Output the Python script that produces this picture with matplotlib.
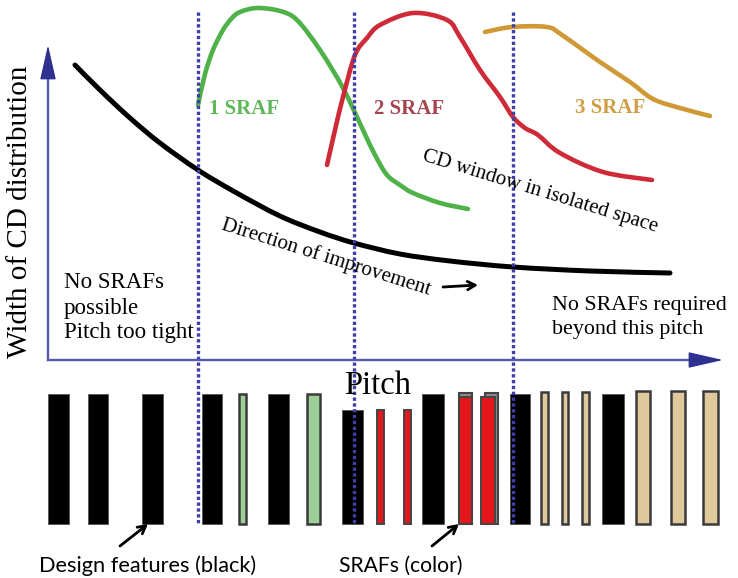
#Width of CD distribution vs pitch, with SRAF bars underneath

import matplotlib
matplotlib.use('Agg')
from matplotlib import pyplot as plt
from matplotlib.path import Path
from matplotlib.patches import PathPatch

# curves in pixels
black_x = [75, 100, 130, 160, 198, 235, 280, 320, 354, 400, 450, 513, 590, 670]
black_y = [65, 90, 118, 143, 170, 192, 216, 232, 243, 254, 261, 267, 271, 273]
green_x = [198, 205, 213, 223, 232, 240, 257, 280, 297, 320, 343, 363, 375, 387, 400, 413, 440, 468]
green_y = [105, 74, 50, 30, 18, 12, 8, 11, 20, 50, 88, 130, 155, 175, 185, 193, 203, 209]
red_x = [327, 335, 343, 355, 367, 380, 413, 447, 460, 480, 500, 513, 525, 538, 560, 603, 652]
red_y = [165, 130, 97, 55, 38, 25, 13, 20, 37, 70, 97, 117, 128, 135, 153, 172, 180]
tan_x = [485, 512, 547, 562, 600, 630, 653, 680, 710]
tan_y = [32, 27, 27, 35, 62, 82, 99, 108, 116]

# bars: left, right, top
black_bars = [(48, 69, 394), (88, 108, 394), (142, 163, 394), (202, 222, 394), (268, 289, 394),
              (342, 363, 410), (422, 444, 394), (510, 530, 394), (602, 624, 394)]
green_bars = [(239, 246, 394), (307, 320, 394)]
red_bars = [(377, 384, 410), (404, 411, 410), (459, 472, 397), (481, 495, 397)]
shadow_bars = [(459, 472, 393), (485, 498, 393)]
tan_bars = [(541, 548, 392), (562, 568, 392), (582, 589, 392), (636, 650, 391), (671, 685, 391), (703, 718, 391)]
bar_bottom = 524

divider_x = [198, 354, 513]

blue = '#5659ad'
blue_head = '#2e3192'
serif = 'Liberation Serif'

fig = plt.figure(figsize=(7.38, 5.78), dpi=100)
ax = fig.add_axes([0, 0, 1, 1])
ax.set_xlim(0, 738)
ax.set_ylim(578, 0)
ax.axis('off')


def draw_bars(bars, fill, edge, lw):
    for left, right, top in bars:
        ax.bar(left, bar_bottom - top, width=right - left, bottom=top, align='edge',
               color=fill, edgecolor=edge, linewidth=lw)


def draw_curve(xs, ys, color, lw):
    # smooth stroke through the read points (catmull-rom as bezier segments)
    pts = list(zip(xs, ys))
    verts = [pts[0]]
    codes = [Path.MOVETO]
    for i in range(len(pts) - 1):
        p0 = pts[max(i - 1, 0)]
        p1 = pts[i]
        p2 = pts[i + 1]
        p3 = pts[min(i + 2, len(pts) - 1)]
        c1 = (p1[0] + (p2[0] - p0[0]) / 6, p1[1] + (p2[1] - p0[1]) / 6)
        c2 = (p2[0] - (p3[0] - p1[0]) / 6, p2[1] - (p3[1] - p1[1]) / 6)
        verts += [c1, c2, p2]
        codes += [Path.CURVE4, Path.CURVE4, Path.CURVE4]
    ax.add_patch(PathPatch(Path(verts, codes), fill=False, edgecolor=color, lw=lw,
                           capstyle='round', joinstyle='round'))


draw_bars(shadow_bars, '#8a8a8a', '#444444', 1.5)
draw_bars(black_bars, 'black', '#555555', 0.6)
draw_bars(green_bars, '#9fcf98', '#3a3a3a', 1.8)
draw_bars(red_bars, '#e3171b', '#444444', 1.4)
draw_bars(tan_bars, '#dfc89c', '#3a3a3a', 1.8)

# curves
draw_curve(green_x, green_y, '#4fb248', 3.3)
draw_curve(red_x, red_y, '#cf2a37', 3.3)
draw_curve(tan_x, tan_y, '#cf9a35', 3.3)
draw_curve(black_x, black_y, 'black', 3.6)

# dotted dividers
for x in divider_x:
    ax.plot([x, x], [12, bar_bottom], color='#3f3fa8', lw=2.4, linestyle=(0, (1.0, 0.75)))

# axes arrows
ax.plot([48, 48], [360, 75], color=blue, lw=1.7)
ax.plot([48, 695], [360, 360], color=blue, lw=1.7)
ax.annotate('', xy=(48, 45), xytext=(48, 78),
            arrowprops=dict(arrowstyle='-|>,head_width=0.5,head_length=2.2', color=blue_head, lw=1, shrinkA=0, shrinkB=0))
ax.annotate('', xy=(723, 360), xytext=(692, 360),
            arrowprops=dict(arrowstyle='-|>,head_width=0.5,head_length=2.2', color=blue_head, lw=1, shrinkA=0, shrinkB=0))

# small black arrows
for start, end in [((120, 546), (148, 524)), ((432, 546), (459, 524)), ((443, 287), (478, 285))]:
    ax.annotate('', xy=end, xytext=start,
                arrowprops=dict(arrowstyle='->,head_width=0.3,head_length=0.55', color='black', lw=2, shrinkA=0, shrinkB=0))

# text
ax.text(20, 212, 'Width of CD distribution', rotation=90, ha='center', va='center', family=serif, fontsize=21)
ax.text(378, 386, 'Pitch', ha='center', va='center', family=serif, fontsize=23.5)
ax.text(64, 288, 'No SRAFs', ha='left', va='baseline', family=serif, fontsize=16.5)
ax.text(64, 314, 'possible', ha='left', va='baseline', family=serif, fontsize=16.5)
ax.text(64, 338, 'Pitch too tight', ha='left', va='baseline', family=serif, fontsize=16.5)
ax.text(552, 310, 'No SRAFs required', ha='left', va='baseline', family=serif, fontsize=15.8)
ax.text(552, 334, 'beyond this pitch', ha='left', va='baseline', family=serif, fontsize=15.8)
ax.text(540, 192, 'CD window in isolated space', rotation=-17, rotation_mode='anchor', ha='center', va='center', family=serif, fontsize=15)
ax.text(326, 257, 'Direction of improvement', rotation=-17.5, rotation_mode='anchor', ha='center', va='center', family=serif, fontsize=15)

ax.text(244, 109, '1 SRAF', color='#5fb858', ha='center', va='center', family=serif, weight='bold', fontsize=15)
ax.text(409, 109, '2 SRAF', color='#a5444f', ha='center', va='center', family=serif, weight='bold', fontsize=15)
ax.text(610, 108, '3 SRAF', color='#cf9f45', ha='center', va='center', family=serif, weight='bold', fontsize=15)

ax.text(148, 566, 'Design features (black)', ha='center', va='center', family='Lato', fontsize=15.7)
ax.text(401, 566, 'SRAFs (color)', ha='center', va='center', family='Lato', fontsize=15.2)

fig.savefig('out.png', dpi=100)
